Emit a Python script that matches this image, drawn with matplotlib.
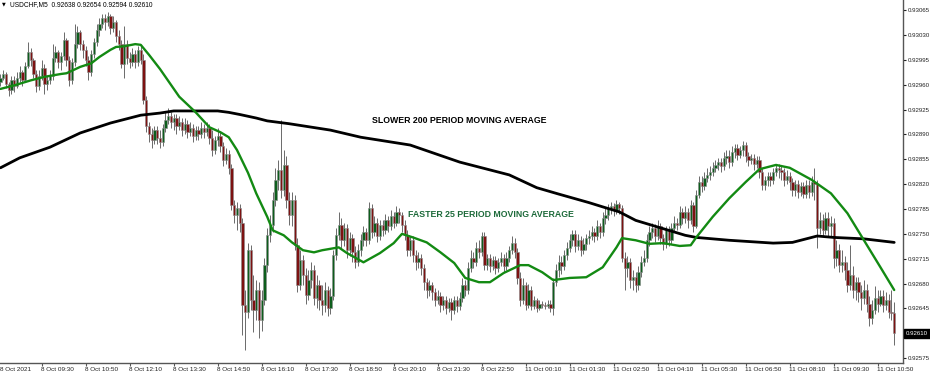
import numpy as np
import matplotlib.pyplot as plt
import matplotlib.transforms as mtransforms

plt.rcParams['font.family'] = ['Liberation Sans', 'DejaVu Sans']

symbol = "USDCHF,M5"

# 5 minute bars, 8 Oct 08:15 -> 11 Oct 11:20 (open of a bar = previous close)
first_open = 0.92964
closes = [
    0.92969, 0.92975, 0.92961, 0.92952, 0.92966, 0.92958, 0.92969, 0.92978, 0.92966, 0.92986, 0.93006, 0.92995, 0.92975, 0.92958, 0.92972, 0.92983,
    0.92961, 0.92966, 0.92972, 0.92997, 0.93006, 0.92992, 0.93000, 0.93023, 0.92995, 0.92966, 0.92992, 0.93017, 0.93034, 0.93017, 0.93009, 0.92995,
    0.92978, 0.93003, 0.93020, 0.93037, 0.93045, 0.93054, 0.93048, 0.93057, 0.93040, 0.93048, 0.93028, 0.93017, 0.92989, 0.93017, 0.92997, 0.92992,
    0.93003, 0.92992, 0.93009, 0.92995, 0.92938, 0.92902, 0.92890, 0.92882, 0.92896, 0.92885, 0.92879, 0.92899, 0.92910, 0.92916, 0.92907, 0.92913,
    0.92902, 0.92907, 0.92896, 0.92905, 0.92893, 0.92899, 0.92888, 0.92896, 0.92890, 0.92899, 0.92893, 0.92899, 0.92885, 0.92868, 0.92882, 0.92888,
    0.92874, 0.92854, 0.92862, 0.92843, 0.92790, 0.92776, 0.92786, 0.92766, 0.92650, 0.92640, 0.92727, 0.92657, 0.92643, 0.92671, 0.92629, 0.92657,
    0.92706, 0.92748, 0.92762, 0.92797, 0.92826, 0.92840, 0.92812, 0.92847, 0.92797, 0.92776, 0.92797, 0.92734, 0.92678, 0.92713, 0.92692, 0.92664,
    0.92685, 0.92699, 0.92660, 0.92678, 0.92657, 0.92650, 0.92671, 0.92645, 0.92662, 0.92720, 0.92748, 0.92762, 0.92741, 0.92758, 0.92727, 0.92744,
    0.92724, 0.92710, 0.92727, 0.92741, 0.92752, 0.92741, 0.92786, 0.92752, 0.92766, 0.92747, 0.92762, 0.92755, 0.92769, 0.92761, 0.92775, 0.92766,
    0.92781, 0.92776, 0.92762, 0.92748, 0.92727, 0.92741, 0.92720, 0.92710, 0.92716, 0.92702, 0.92682, 0.92671, 0.92678, 0.92668, 0.92657, 0.92662,
    0.92650, 0.92657, 0.92645, 0.92654, 0.92643, 0.92657, 0.92648, 0.92660, 0.92678, 0.92671, 0.92702, 0.92716, 0.92710, 0.92730, 0.92724, 0.92747,
    0.92706, 0.92716, 0.92705, 0.92713, 0.92702, 0.92710, 0.92716, 0.92705, 0.92716, 0.92727, 0.92737, 0.92724, 0.92688, 0.92657, 0.92678, 0.92650,
    0.92671, 0.92648, 0.92657, 0.92645, 0.92652, 0.92650, 0.92648, 0.92651, 0.92645, 0.92682, 0.92699, 0.92710, 0.92705, 0.92720, 0.92730, 0.92741,
    0.92750, 0.92733, 0.92741, 0.92727, 0.92736, 0.92744, 0.92747, 0.92752, 0.92747, 0.92761, 0.92752, 0.92772, 0.92776, 0.92786, 0.92789, 0.92783,
    0.92792, 0.92786, 0.92716, 0.92702, 0.92710, 0.92685, 0.92690, 0.92678, 0.92696, 0.92710, 0.92716, 0.92741, 0.92752, 0.92758, 0.92747, 0.92761,
    0.92744, 0.92736, 0.92755, 0.92741, 0.92758, 0.92766, 0.92762, 0.92781, 0.92772, 0.92781, 0.92769, 0.92790, 0.92761, 0.92805, 0.92823, 0.92817,
    0.92828, 0.92833, 0.92837, 0.92843, 0.92847, 0.92851, 0.92845, 0.92857, 0.92859, 0.92851, 0.92865, 0.92871, 0.92861, 0.92868, 0.92875, 0.92859,
    0.92854, 0.92857, 0.92848, 0.92854, 0.92837, 0.92819, 0.92826, 0.92831, 0.92826, 0.92837, 0.92843, 0.92840, 0.92837, 0.92826, 0.92831, 0.92823,
    0.92812, 0.92820, 0.92809, 0.92817, 0.92806, 0.92819, 0.92809, 0.92823, 0.92820, 0.92758, 0.92769, 0.92755, 0.92772, 0.92761, 0.92766, 0.92716,
    0.92727, 0.92706, 0.92710, 0.92699, 0.92678, 0.92692, 0.92671, 0.92682, 0.92668, 0.92660, 0.92671, 0.92652, 0.92631, 0.92643, 0.92660, 0.92651,
    0.92662, 0.92650, 0.92657, 0.92640, 0.92638, 0.92610,
]
highs = [
    0.92975, 0.92981, 0.92978, 0.92964, 0.92972, 0.92972, 0.92978, 0.92986, 0.92981, 0.92992, 0.93020, 0.93012, 0.92997, 0.92981, 0.92981, 0.92995,
    0.92989, 0.92972, 0.92981, 0.93017, 0.93014, 0.93009, 0.93006, 0.93034, 0.93026, 0.93000, 0.92997, 0.93045, 0.93042, 0.93037, 0.93023, 0.93014,
    0.93000, 0.93009, 0.93026, 0.93045, 0.93054, 0.93059, 0.93059, 0.93062, 0.93059, 0.93057, 0.93051, 0.93037, 0.93023, 0.93042, 0.93023, 0.93006,
    0.93012, 0.93009, 0.93014, 0.93014, 0.93003, 0.92944, 0.92907, 0.92899, 0.92902, 0.92902, 0.92896, 0.92905, 0.92921, 0.92927, 0.92921, 0.92919,
    0.92919, 0.92916, 0.92913, 0.92913, 0.92910, 0.92907, 0.92905, 0.92902, 0.92902, 0.92907, 0.92905, 0.92907, 0.92905, 0.92896, 0.92888, 0.92899,
    0.92893, 0.92879, 0.92871, 0.92868, 0.92848, 0.92797, 0.92795, 0.92792, 0.92772, 0.92671, 0.92737, 0.92734, 0.92692, 0.92685, 0.92682, 0.92671,
    0.92716, 0.92758, 0.92776, 0.92809, 0.92843, 0.92854, 0.92910, 0.92868, 0.92859, 0.92809, 0.92809, 0.92805, 0.92744, 0.92727, 0.92720, 0.92702,
    0.92699, 0.92710, 0.92706, 0.92692, 0.92685, 0.92678, 0.92682, 0.92676, 0.92674, 0.92727, 0.92758, 0.92781, 0.92772, 0.92766, 0.92764, 0.92752,
    0.92750, 0.92733, 0.92736, 0.92750, 0.92761, 0.92758, 0.92795, 0.92792, 0.92775, 0.92772, 0.92769, 0.92769, 0.92778, 0.92775, 0.92783, 0.92781,
    0.92789, 0.92786, 0.92781, 0.92769, 0.92755, 0.92747, 0.92747, 0.92727, 0.92724, 0.92721, 0.92707, 0.92688, 0.92685, 0.92682, 0.92674, 0.92671,
    0.92668, 0.92662, 0.92662, 0.92660, 0.92660, 0.92662, 0.92662, 0.92668, 0.92688, 0.92685, 0.92710, 0.92727, 0.92724, 0.92738, 0.92741, 0.92752,
    0.92752, 0.92721, 0.92721, 0.92719, 0.92719, 0.92716, 0.92724, 0.92721, 0.92724, 0.92733, 0.92747, 0.92744, 0.92730, 0.92696, 0.92688, 0.92682,
    0.92679, 0.92676, 0.92662, 0.92660, 0.92657, 0.92655, 0.92654, 0.92657, 0.92657, 0.92688, 0.92707, 0.92720, 0.92719, 0.92727, 0.92738, 0.92750,
    0.92755, 0.92755, 0.92750, 0.92747, 0.92744, 0.92750, 0.92755, 0.92761, 0.92758, 0.92769, 0.92766, 0.92781, 0.92786, 0.92792, 0.92795, 0.92793,
    0.92797, 0.92795, 0.92790, 0.92724, 0.92719, 0.92716, 0.92699, 0.92696, 0.92705, 0.92719, 0.92727, 0.92750, 0.92761, 0.92766, 0.92764, 0.92769,
    0.92766, 0.92750, 0.92761, 0.92761, 0.92766, 0.92775, 0.92772, 0.92789, 0.92786, 0.92789, 0.92786, 0.92797, 0.92795, 0.92812, 0.92831, 0.92831,
    0.92837, 0.92843, 0.92845, 0.92851, 0.92854, 0.92857, 0.92857, 0.92865, 0.92868, 0.92868, 0.92874, 0.92876, 0.92876, 0.92874, 0.92881, 0.92879,
    0.92865, 0.92862, 0.92862, 0.92859, 0.92859, 0.92843, 0.92831, 0.92837, 0.92837, 0.92843, 0.92848, 0.92848, 0.92845, 0.92843, 0.92840, 0.92837,
    0.92828, 0.92826, 0.92826, 0.92823, 0.92823, 0.92826, 0.92826, 0.92831, 0.92843, 0.92826, 0.92781, 0.92778, 0.92781, 0.92781, 0.92775, 0.92772,
    0.92741, 0.92736, 0.92727, 0.92719, 0.92710, 0.92734, 0.92705, 0.92690, 0.92690, 0.92678, 0.92685, 0.92679, 0.92662, 0.92657, 0.92676, 0.92671,
    0.92671, 0.92671, 0.92668, 0.92665, 0.92671, 0.92654,
]
lows = [
    0.92958, 0.92966, 0.92955, 0.92944, 0.92947, 0.92950, 0.92955, 0.92964, 0.92958, 0.92964, 0.92983, 0.92986, 0.92969, 0.92950, 0.92952, 0.92966,
    0.92947, 0.92952, 0.92961, 0.92966, 0.92992, 0.92983, 0.92981, 0.92995, 0.92986, 0.92958, 0.92961, 0.92986, 0.93012, 0.93009, 0.92997, 0.92986,
    0.92966, 0.92972, 0.92997, 0.93014, 0.93028, 0.93040, 0.93037, 0.93042, 0.93031, 0.93034, 0.93020, 0.93009, 0.92983, 0.92969, 0.92989, 0.92983,
    0.92986, 0.92983, 0.92986, 0.92989, 0.92933, 0.92893, 0.92879, 0.92871, 0.92876, 0.92876, 0.92871, 0.92874, 0.92893, 0.92905, 0.92899, 0.92896,
    0.92890, 0.92896, 0.92888, 0.92890, 0.92885, 0.92888, 0.92879, 0.92882, 0.92882, 0.92885, 0.92885, 0.92888, 0.92876, 0.92859, 0.92862, 0.92874,
    0.92865, 0.92845, 0.92848, 0.92834, 0.92783, 0.92766, 0.92755, 0.92752, 0.92607, 0.92586, 0.92631, 0.92643, 0.92612, 0.92629, 0.92603, 0.92614,
    0.92650, 0.92696, 0.92738, 0.92752, 0.92789, 0.92812, 0.92800, 0.92803, 0.92786, 0.92762, 0.92761, 0.92727, 0.92668, 0.92671, 0.92678, 0.92652,
    0.92657, 0.92674, 0.92650, 0.92645, 0.92643, 0.92636, 0.92640, 0.92634, 0.92637, 0.92657, 0.92713, 0.92741, 0.92730, 0.92733, 0.92716, 0.92719,
    0.92710, 0.92702, 0.92705, 0.92719, 0.92733, 0.92733, 0.92736, 0.92744, 0.92747, 0.92738, 0.92741, 0.92747, 0.92750, 0.92752, 0.92755, 0.92758,
    0.92761, 0.92766, 0.92752, 0.92741, 0.92719, 0.92719, 0.92710, 0.92699, 0.92702, 0.92692, 0.92671, 0.92660, 0.92662, 0.92657, 0.92648, 0.92651,
    0.92640, 0.92643, 0.92637, 0.92640, 0.92629, 0.92637, 0.92640, 0.92643, 0.92654, 0.92662, 0.92665, 0.92696, 0.92702, 0.92705, 0.92716, 0.92719,
    0.92699, 0.92699, 0.92696, 0.92699, 0.92693, 0.92696, 0.92705, 0.92696, 0.92699, 0.92710, 0.92721, 0.92716, 0.92679, 0.92648, 0.92651, 0.92643,
    0.92645, 0.92643, 0.92644, 0.92640, 0.92643, 0.92645, 0.92644, 0.92645, 0.92640, 0.92636, 0.92676, 0.92690, 0.92693, 0.92699, 0.92713, 0.92724,
    0.92733, 0.92724, 0.92727, 0.92719, 0.92721, 0.92727, 0.92736, 0.92741, 0.92738, 0.92741, 0.92744, 0.92747, 0.92764, 0.92769, 0.92778, 0.92775,
    0.92778, 0.92778, 0.92710, 0.92671, 0.92690, 0.92674, 0.92671, 0.92668, 0.92671, 0.92690, 0.92705, 0.92710, 0.92733, 0.92744, 0.92738, 0.92741,
    0.92736, 0.92727, 0.92730, 0.92733, 0.92736, 0.92752, 0.92755, 0.92758, 0.92764, 0.92766, 0.92758, 0.92764, 0.92752, 0.92758, 0.92800, 0.92809,
    0.92812, 0.92823, 0.92826, 0.92831, 0.92837, 0.92840, 0.92837, 0.92840, 0.92848, 0.92843, 0.92845, 0.92857, 0.92854, 0.92857, 0.92859, 0.92851,
    0.92845, 0.92848, 0.92840, 0.92843, 0.92828, 0.92812, 0.92812, 0.92817, 0.92817, 0.92820, 0.92831, 0.92828, 0.92826, 0.92817, 0.92820, 0.92812,
    0.92803, 0.92803, 0.92800, 0.92803, 0.92800, 0.92800, 0.92800, 0.92803, 0.92797, 0.92730, 0.92750, 0.92747, 0.92750, 0.92747, 0.92747, 0.92702,
    0.92705, 0.92696, 0.92696, 0.92685, 0.92668, 0.92671, 0.92660, 0.92657, 0.92654, 0.92643, 0.92651, 0.92640, 0.92620, 0.92623, 0.92637, 0.92640,
    0.92648, 0.92640, 0.92643, 0.92631, 0.92629, 0.92594,
]

# moving averages (bar index, price)
ma25_bar = [0, 5, 11, 16, 22, 24, 29, 33, 36, 40, 42, 45, 49, 51, 54, 58, 65, 71, 76, 80,
            83, 86, 90, 93, 97, 99, 103, 106, 110, 114, 117, 123, 126, 132, 138, 143, 146, 150, 155, 160,
            165, 169, 174, 178, 183, 189, 192, 197, 201, 207, 213, 219, 224, 226, 231, 236, 241, 247, 251, 253,
            259, 265, 271, 276, 282, 287, 295, 302, 308, 314, 320, 325]
ma25_val = [0.92954, 0.92959, 0.92966, 0.92971, 0.92975, 0.92976, 0.92985, 0.92990, 0.92999, 0.93009,
            0.93013, 0.93014, 0.93017, 0.93016, 0.93002, 0.92982, 0.92943, 0.92921, 0.92900, 0.92893,
            0.92886, 0.92868, 0.92836, 0.92807, 0.92774, 0.92755, 0.92748, 0.92738, 0.92727, 0.92724,
            0.92727, 0.92731, 0.92723, 0.92710, 0.92723, 0.92737, 0.92750, 0.92745, 0.92738, 0.92724,
            0.92709, 0.92688, 0.92682, 0.92682, 0.92695, 0.92706, 0.92706, 0.92696, 0.92685, 0.92688,
            0.92689, 0.92703, 0.92731, 0.92744, 0.92741, 0.92736, 0.92737, 0.92733, 0.92734, 0.92745,
            0.92774, 0.92800, 0.92823, 0.92841, 0.92847, 0.92843, 0.92826, 0.92807, 0.92779, 0.92741,
            0.92703, 0.92671]
ma200_bar = [0, 7, 18, 29, 40, 51, 58, 63, 71, 79, 83, 87, 93, 97, 105, 120, 131, 149, 167, 185,
             195, 203, 214, 219, 225, 231, 237, 243, 249, 253, 265, 281, 288, 297, 303, 314, 325]
ma200_val = [0.92843, 0.92857, 0.92872, 0.92892, 0.92906, 0.92917, 0.92920, 0.92923, 0.92923, 0.92923,
             0.92921, 0.92918, 0.92913, 0.92909, 0.92905, 0.92896, 0.92886, 0.92875, 0.92851, 0.92833,
             0.92815, 0.92806, 0.92794, 0.92788, 0.92781, 0.92769, 0.92762, 0.92755, 0.92748, 0.92745,
             0.92741, 0.92737, 0.92738, 0.92747, 0.92745, 0.92743, 0.92738]

time_labels = ["8 Oct 2021", "8 Oct 09:30", "8 Oct 10:50", "8 Oct 12:10", "8 Oct 13:30", "8 Oct 14:50",
               "8 Oct 16:10", "8 Oct 17:30", "8 Oct 18:50", "8 Oct 20:10", "8 Oct 21:30", "8 Oct 22:50",
               "11 Oct 00:10", "11 Oct 01:30", "11 Oct 02:50", "11 Oct 04:10", "11 Oct 05:30",
               "11 Oct 06:50", "11 Oct 08:10", "11 Oct 09:30", "11 Oct 10:50"]
price_ticks = [0.92575, 0.92610, 0.92645, 0.92680, 0.92715, 0.92750, 0.92785, 0.92820,
               0.92855, 0.92890, 0.92925, 0.92960, 0.92995, 0.93030, 0.93065]

c = np.array(closes)
o = np.array([first_open] + closes[:-1])
x = np.arange(len(c))
up = c >= o
body_lo = np.minimum(o, c)
body_h = np.maximum(np.abs(c - o), 0.000012)

fig = plt.figure(figsize=(9.3, 3.75), dpi=100)
ax = fig.add_axes([0, 12 / 375, 903 / 930, 363 / 375])

ax.vlines(x, lows, highs, color='#6a6a6a', lw=0.7, zorder=1)
ax.bar(x[up], body_h[up], bottom=body_lo[up], width=0.78, color='#0d5e1c',
       edgecolor='#8a8a8a', linewidth=0.4, zorder=2)
ax.bar(x[~up], body_h[~up], bottom=body_lo[~up], width=0.78, color='#7d1212',
       edgecolor='#8a8a8a', linewidth=0.4, zorder=2)

ax.plot(ma200_bar, ma200_val, color='black', lw=2.0, zorder=3, solid_capstyle='round')
ax.plot(ma25_bar, ma25_val, color='#138a13', lw=1.7, zorder=4, solid_capstyle='round')

ax.set_xlim(-0.18, 328.2)
ax.set_ylim(0.925683, 0.930791)

for s in ['left', 'top']:
    ax.spines[s].set_visible(False)
for s in ['right', 'bottom']:
    ax.spines[s].set_color('#555555')
    ax.spines[s].set_linewidth(1.0)

# price axis on the right
ax.yaxis.tick_right()
ax.set_yticks(price_ticks)
ax.set_yticklabels(['' if abs(p - c[-1]) < 1e-7 else f"{p:.5f}" for p in price_ticks])
ax.tick_params(axis='y', direction='out', length=2, pad=1.5, labelsize=4.4, colors='#222222')

trans_y = mtransforms.blended_transform_factory(ax.transAxes, ax.transData)
ax.text(1.003, c[-1], f"{c[-1]:.5f}", transform=trans_y, ha='left', va='center',
        fontsize=4.4, color='white', clip_on=False,
        bbox=dict(boxstyle='square,pad=0.35', fc='black', ec='black'))

# time axis: labels start at their tick, MT4 style
tick_bars = list(range(-1, len(c), 16))
ax.set_xticks([b for b in tick_bars if b >= 0])
ax.set_xticklabels([])
ax.tick_params(axis='x', direction='out', length=2.5, color='#555555')
trans_x = mtransforms.blended_transform_factory(ax.transData, ax.transAxes)
for b, lab in zip(tick_bars, time_labels):
    ax.text(max(b - 0.3, 0.0), -0.012, lab, transform=trans_x, ha='left', va='top',
            fontsize=4.6, color='#222222', clip_on=False)

ax.text(0.0025, 0.988, "\u25bc", transform=ax.transAxes, ha='left', va='center',
        fontsize=3.5, color='black', family='DejaVu Sans')
ax.text(0.011, 0.988, f"{symbol}  {o[-1]:.5f} {highs[-1]:.5f} {lows[-1]:.5f} {c[-1]:.5f}",
        transform=ax.transAxes, ha='left', va='center', fontsize=4.8, color='black')

ax.text(0.412, 0.667, "SLOWER 200 PERIOD MOVING AVERAGE", transform=ax.transAxes,
        ha='left', va='center', fontsize=6.3, fontweight='bold', color='black')
ax.text(0.452, 0.410, "FASTER 25 PERIOD MOVING AVERAGE", transform=ax.transAxes,
        ha='left', va='center', fontsize=6.3, fontweight='bold', color='#1d6a3a')

fig.savefig('out.png', dpi=100)
